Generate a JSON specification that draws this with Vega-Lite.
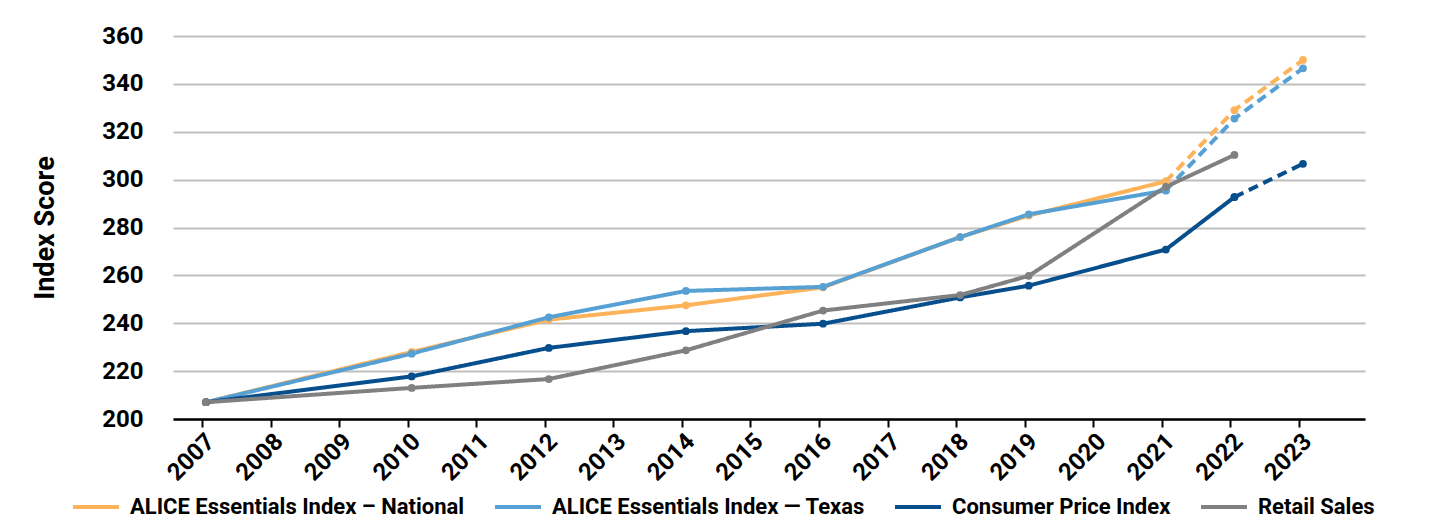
{
  "$schema": "https://vega.github.io/schema/vega-lite/v6.json",
  "autosize": {"type": "none"},
  "width": 1192,
  "height": 383,
  "padding": {"left": 173, "top": 36, "right": 67, "bottom": 110},
  "background": "white",
  "config": {
    "font": "Roboto",
    "view": {"stroke": null},
    "axis": {"labelFont": "Roboto", "titleFont": "Roboto"}
  },
  "data": {
    "values": [
      {"series": "ALICE Essentials Index – National", "year": 2007, "value": 207, "seg": "actual"},
      {"series": "ALICE Essentials Index – National", "year": 2010, "value": 228, "seg": "actual"},
      {"series": "ALICE Essentials Index – National", "year": 2012, "value": 241.5, "seg": "actual"},
      {"series": "ALICE Essentials Index – National", "year": 2014, "value": 247.5, "seg": "actual"},
      {"series": "ALICE Essentials Index – National", "year": 2016, "value": 255, "seg": "actual"},
      {"series": "ALICE Essentials Index – National", "year": 2018, "value": 276, "seg": "actual"},
      {"series": "ALICE Essentials Index – National", "year": 2019, "value": 285, "seg": "actual"},
      {"series": "ALICE Essentials Index – National", "year": 2021, "value": 299.3, "seg": "actual"},
      {"series": "ALICE Essentials Index – National", "year": 2021, "value": 299.3, "seg": "projected"},
      {"series": "ALICE Essentials Index – National", "year": 2022, "value": 329, "seg": "projected"},
      {"series": "ALICE Essentials Index – National", "year": 2023, "value": 350, "seg": "projected"},
      {"series": "ALICE Essentials Index — Texas", "year": 2007, "value": 207, "seg": "actual"},
      {"series": "ALICE Essentials Index — Texas", "year": 2010, "value": 227.3, "seg": "actual"},
      {"series": "ALICE Essentials Index — Texas", "year": 2012, "value": 242.5, "seg": "actual"},
      {"series": "ALICE Essentials Index — Texas", "year": 2014, "value": 253.5, "seg": "actual"},
      {"series": "ALICE Essentials Index — Texas", "year": 2016, "value": 255.2, "seg": "actual"},
      {"series": "ALICE Essentials Index — Texas", "year": 2018, "value": 276, "seg": "actual"},
      {"series": "ALICE Essentials Index — Texas", "year": 2019, "value": 285.5, "seg": "actual"},
      {"series": "ALICE Essentials Index — Texas", "year": 2021, "value": 295.5, "seg": "actual"},
      {"series": "ALICE Essentials Index — Texas", "year": 2021, "value": 295.5, "seg": "projected"},
      {"series": "ALICE Essentials Index — Texas", "year": 2022, "value": 325.5, "seg": "projected"},
      {"series": "ALICE Essentials Index — Texas", "year": 2023, "value": 346.5, "seg": "projected"},
      {"series": "Consumer Price Index", "year": 2007, "value": 207, "seg": "actual"},
      {"series": "Consumer Price Index", "year": 2010, "value": 217.8, "seg": "actual"},
      {"series": "Consumer Price Index", "year": 2012, "value": 229.7, "seg": "actual"},
      {"series": "Consumer Price Index", "year": 2014, "value": 236.7, "seg": "actual"},
      {"series": "Consumer Price Index", "year": 2016, "value": 239.8, "seg": "actual"},
      {"series": "Consumer Price Index", "year": 2018, "value": 250.8, "seg": "actual"},
      {"series": "Consumer Price Index", "year": 2019, "value": 255.7, "seg": "actual"},
      {"series": "Consumer Price Index", "year": 2021, "value": 270.8, "seg": "actual"},
      {"series": "Consumer Price Index", "year": 2022, "value": 292.7, "seg": "actual"},
      {"series": "Consumer Price Index", "year": 2022, "value": 292.7, "seg": "projected"},
      {"series": "Consumer Price Index", "year": 2023, "value": 306.6, "seg": "projected"},
      {"series": "Retail Sales", "year": 2007, "value": 207, "seg": "actual"},
      {"series": "Retail Sales", "year": 2010, "value": 213, "seg": "actual"},
      {"series": "Retail Sales", "year": 2012, "value": 216.7, "seg": "actual"},
      {"series": "Retail Sales", "year": 2014, "value": 228.7, "seg": "actual"},
      {"series": "Retail Sales", "year": 2016, "value": 245.3, "seg": "actual"},
      {"series": "Retail Sales", "year": 2018, "value": 251.8, "seg": "actual"},
      {"series": "Retail Sales", "year": 2019, "value": 259.8, "seg": "actual"},
      {"series": "Retail Sales", "year": 2021, "value": 297, "seg": "actual"},
      {"series": "Retail Sales", "year": 2022, "value": 310.3, "seg": "actual"}
    ]
  },
  "encoding": {
    "x": {
      "field": "year",
      "type": "quantitative",
      "scale": {"domain": [2006.577, 2023.963], "nice": false, "zero": false},
      "axis": {
        "title": null,
        "values": [2007, 2008, 2009, 2010, 2011, 2012, 2013, 2014, 2015, 2016, 2017, 2018, 2019, 2020, 2021, 2022, 2023],
        "format": "d",
        "grid": false,
        "domainColor": "#000000",
        "domainWidth": 2.5,
        "tickColor": "#000000",
        "tickWidth": 2,
        "tickSize": 8,
        "labelAngle": -45,
        "labelFontSize": 24,
        "labelFontWeight": "bold",
        "labelColor": "#000000",
        "labelPadding": 2
      }
    },
    "y": {
      "field": "value",
      "type": "quantitative",
      "scale": {"domain": [200, 360], "nice": false, "zero": false},
      "axis": {
        "title": "Index Score",
        "titleFontSize": 27,
        "titleFontWeight": "bold",
        "titleColor": "#000000",
        "titlePadding": 42,
        "values": [200, 220, 240, 260, 280, 300, 320, 340, 360],
        "domain": false,
        "ticks": false,
        "labelPadding": 30,
        "labelFontSize": 24,
        "labelFontWeight": "bold",
        "labelColor": "#000000",
        "gridColor": "#bfbfbf",
        "gridWidth": 2
      }
    },
    "color": {
      "field": "series",
      "type": "nominal",
      "scale": {
        "domain": ["ALICE Essentials Index – National", "ALICE Essentials Index — Texas", "Consumer Price Index", "Retail Sales"],
        "range": ["#FDB35A", "#56A0D3", "#074E8C", "#808080"]
      },
      "legend": {
        "title": null,
        "orient": "none",
        "direction": "horizontal",
        "legendX": -102,
        "legendY": 446,
        "symbolType": "stroke",
        "symbolSize": 2116,
        "symbolStrokeWidth": 5,
        "labelFontSize": 22,
        "labelFontWeight": "bold",
        "labelColor": "#000000",
        "labelOffset": 9,
        "labelLimit": 600,
        "columnPadding": 22
      }
    }
  },
  "layer": [
    {
      "mark": {"type": "line", "strokeCap": "butt", "xOffset": 4},
      "encoding": {
        "detail": {"field": "seg", "type": "nominal"},
        "strokeDash": {
          "field": "seg",
          "type": "nominal",
          "scale": {"domain": ["actual", "projected"], "range": [[1, 0], [10, 6]]},
          "legend": null
        },
        "strokeWidth": {
          "field": "series",
          "type": "nominal",
          "scale": {
            "domain": ["ALICE Essentials Index – National", "ALICE Essentials Index — Texas", "Consumer Price Index", "Retail Sales"],
            "range": [4, 4, 4, 2.8]
          },
          "legend": null
        }
      }
    },
    {
      "mark": {"type": "circle", "size": 60, "opacity": 1, "xOffset": 4}
    }
  ]
}
